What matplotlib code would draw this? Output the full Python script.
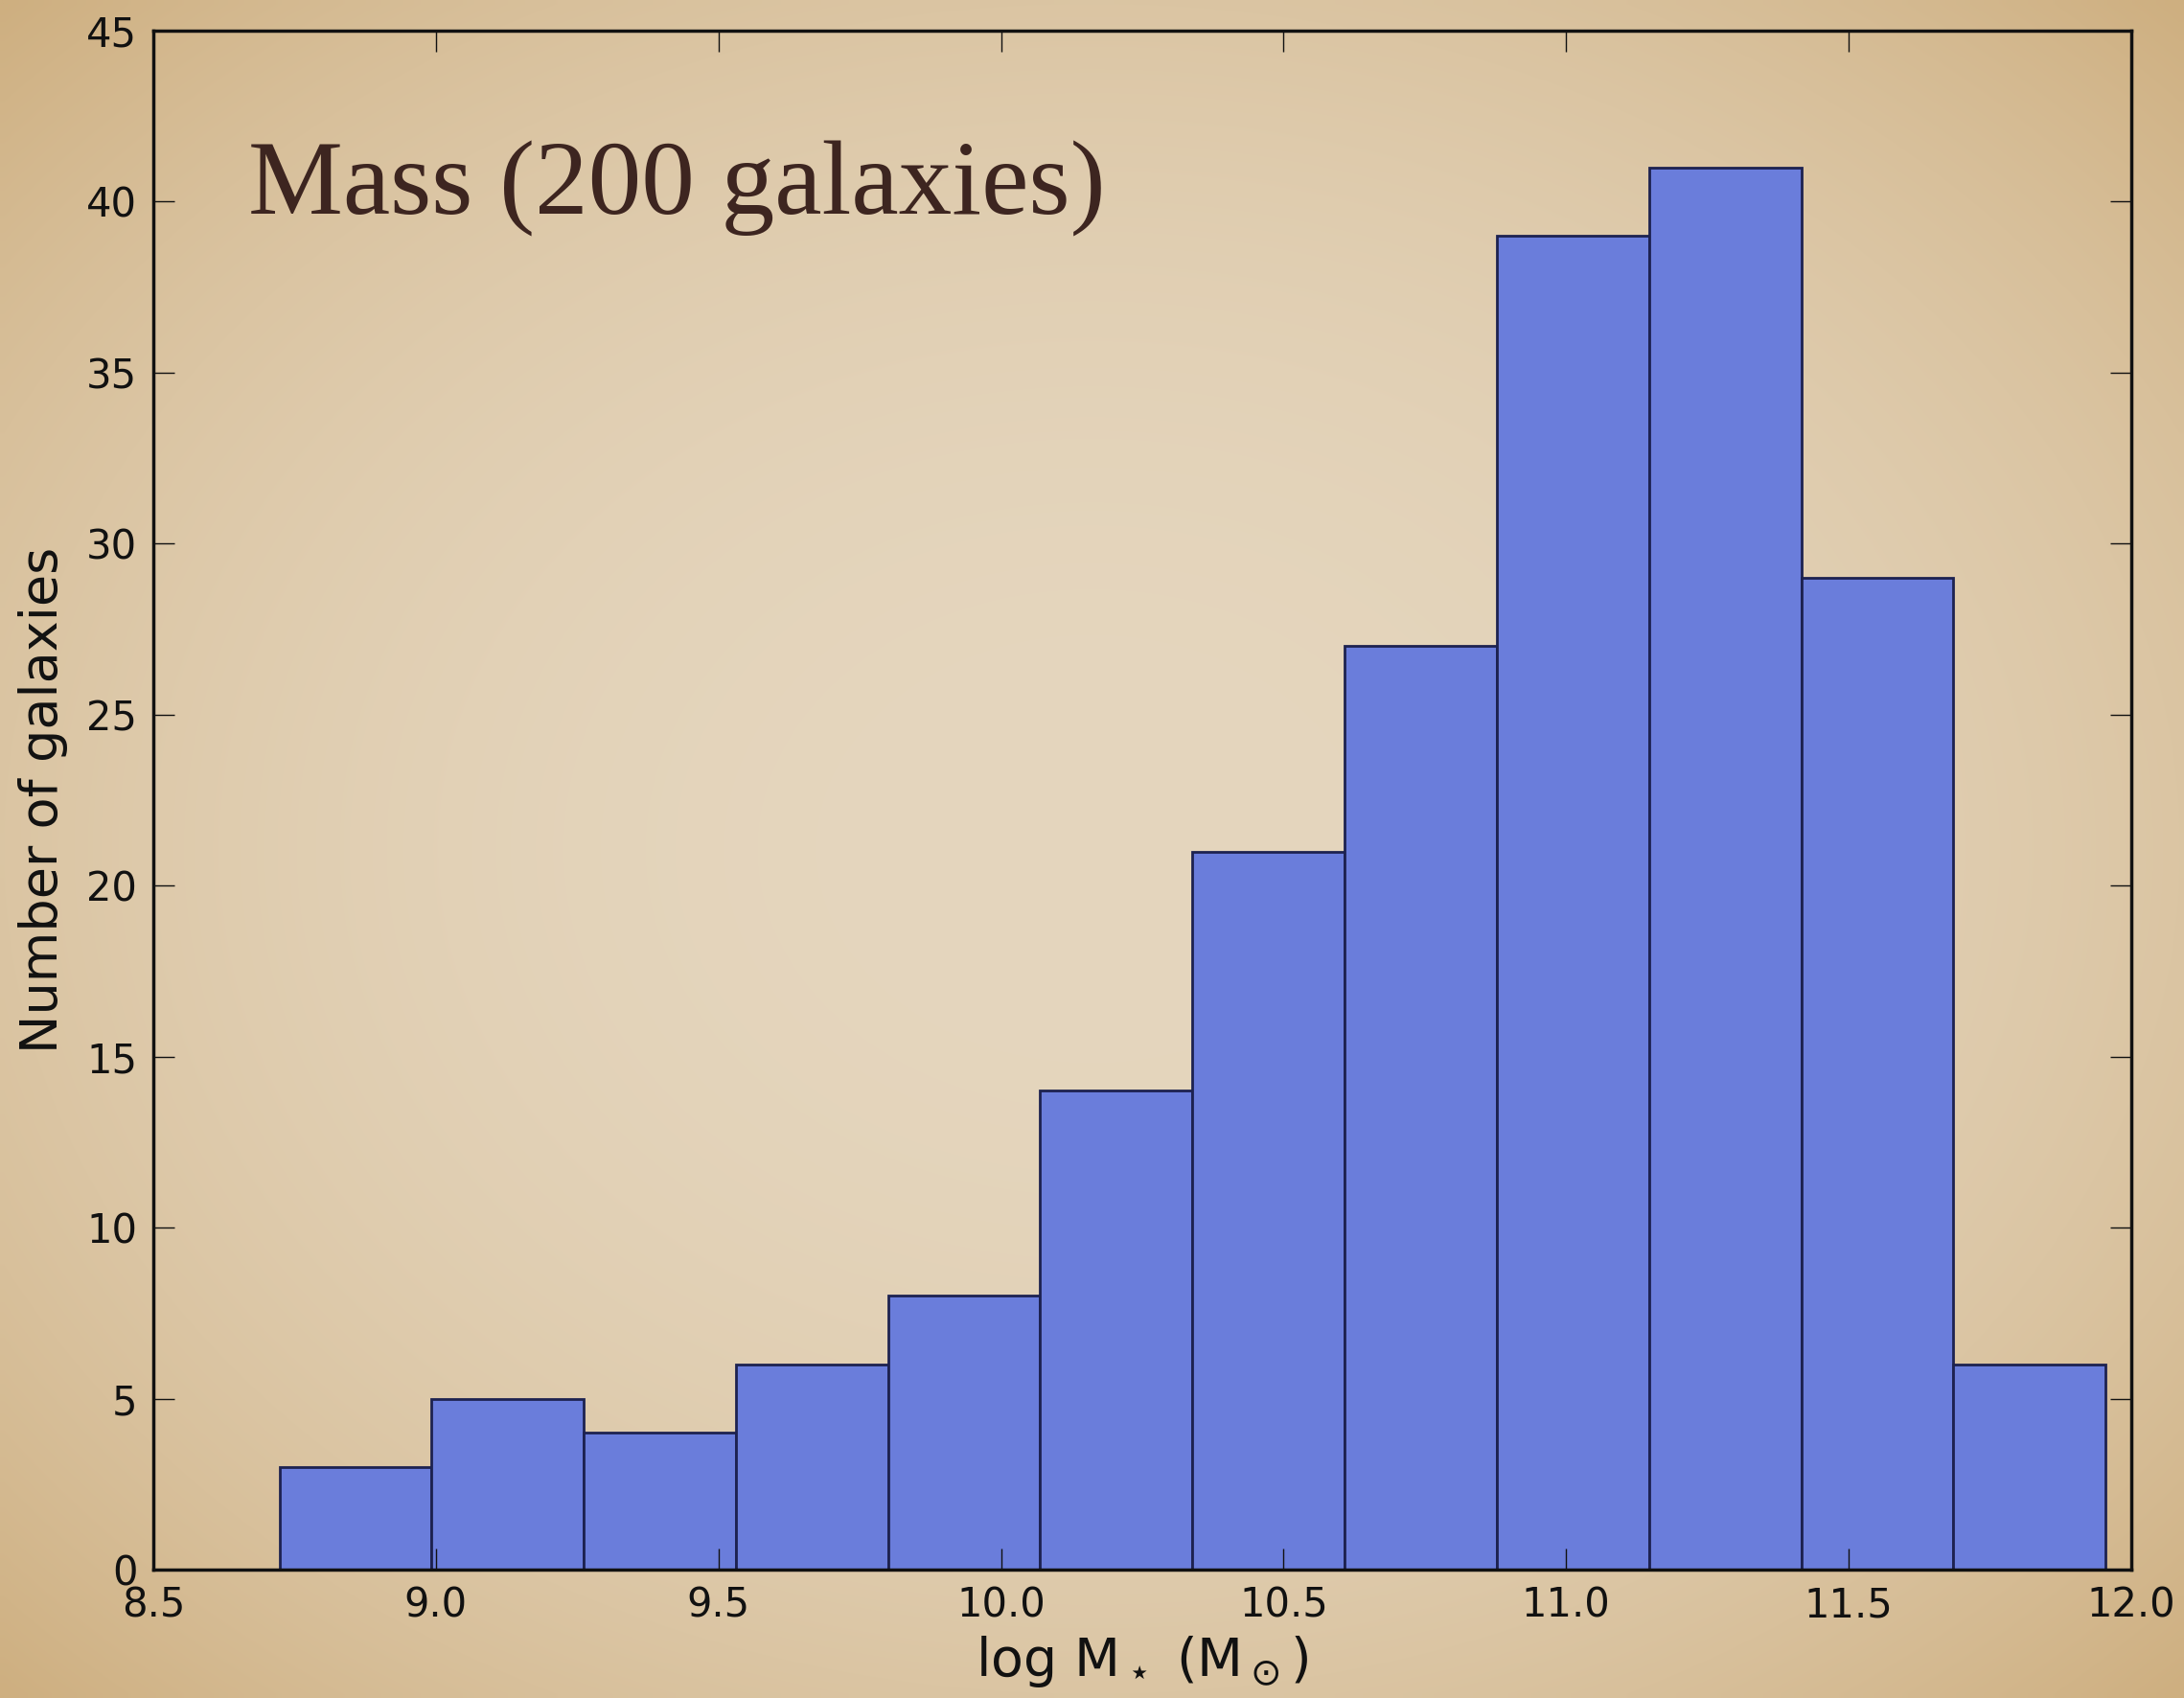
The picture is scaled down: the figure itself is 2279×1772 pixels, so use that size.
import matplotlib
matplotlib.use('Agg')
import matplotlib.pyplot as plt
import numpy as np

# histogram of stellar masses
bin_edges = [8.723, 8.992, 9.262, 9.531, 9.800, 10.069, 10.339,
             10.608, 10.877, 11.147, 11.416, 11.685, 11.955]
counts = [3, 5, 4, 6, 8, 14, 21, 27, 39, 41, 29, 6]

x_ticks = [8.5, 9.0, 9.5, 10.0, 10.5, 11.0, 11.5, 12.0]
y_ticks = [0, 5, 10, 15, 20, 25, 30, 35, 40, 45]

title = 'Mass (200 galaxies)'
xlabel = r'log M$_\star$ (M$_\odot$)'
ylabel = 'Number of galaxies'

W, H = 2279, 1772
fig = plt.figure(figsize=(W / 100, H / 100), dpi=100)
fig.patch.set_facecolor('#dcc6a2')

# parchment background: a soft radial vignette
bg = fig.add_axes([0, 0, 1, 1], zorder=-10)
yy, xx = np.mgrid[0:1:200j, 0:1:260j]
r = np.sqrt(((xx - 0.5) / 0.5) ** 2 + ((yy - 0.5) / 0.5) ** 2) / np.sqrt(2)
t = np.clip(r, 0, 1) ** 2.4
inner = np.array([229, 214, 190]) / 255
outer = np.array([206, 175, 128]) / 255
img = inner[None, None, :] * (1 - t[..., None]) + outer[None, None, :] * t[..., None]
bg.imshow(img, aspect='auto', extent=[0, 1, 0, 1], interpolation='bilinear')
bg.axis('off')

ax = fig.add_axes([160 / W, 134 / H, 2064 / W, 1606 / H])
ax.patch.set_alpha(0)

widths = np.diff(bin_edges)
ax.bar(bin_edges[:-1], counts, width=widths, align='edge',
       color='#6a7ddb', edgecolor='#1d2250', linewidth=2)

ax.set_xlim(8.5, 12.0)
ax.set_ylim(0, 45)
ax.set_xticks(x_ticks)
ax.set_yticks(y_ticks)
ax.set_xticklabels(['%.1f' % v for v in x_ticks])
ax.tick_params(direction='in', top=True, right=True, length=16, width=1.0,
               labelsize=30, pad=12, colors='#111111')
for s in ax.spines.values():
    s.set_linewidth(2.5)
    s.set_color('#111111')

ax.set_xlabel(xlabel, fontsize=40, labelpad=6, color='#111111')
ax.set_ylabel(ylabel, fontsize=39, labelpad=14, color='#111111')

ax.text(0.048, 0.881, title, transform=ax.transAxes, fontsize=80,
        family='Liberation Serif', color='#3d2520', va='baseline')

fig.savefig('out.png', dpi=100)
